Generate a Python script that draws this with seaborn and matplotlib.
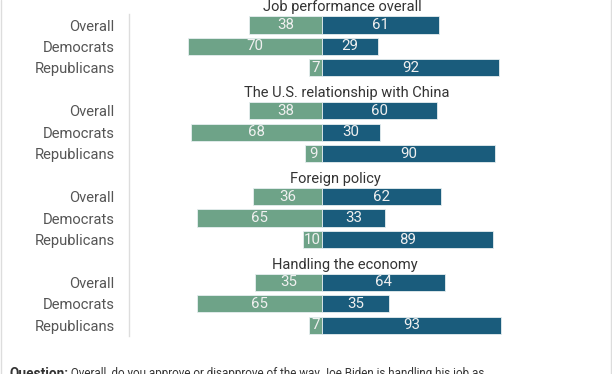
import matplotlib
matplotlib.use("Agg")
import matplotlib.pyplot as plt
from matplotlib.lines import Line2D
import seaborn as sns
import pandas as pd

topics = ["Job performance overall", "The U.S. relationship with China",
          "Foreign policy", "Handling the economy"]
groups = ["Overall", "Democrats", "Republicans"]
disapprove = [[38, 70, 7], [38, 68, 9], [36, 65, 10], [35, 65, 7]]
approve = [[61, 29, 92], [60, 30, 90], [62, 33, 89], [64, 35, 93]]

GREEN = "#6ea388"
BLUE = "#1a5c7c"

rows = []
for t, topic in enumerate(topics):
    for g, grp in enumerate(groups):
        rows.append({"topic": topic, "group": grp, "slot": 4 * t + 1 + g,
                     "disapprove": -disapprove[t][g], "approve": approve[t][g]})
df = pd.DataFrame(rows)

sns.set_theme(style="white")
plt.rcParams["font.family"] = ["Roboto", "DejaVu Sans"]

fig = plt.figure(figsize=(6.12, 3.74), dpi=100)
W, H = 612, 374
ax_left, ax_right = 129 / W, 610 / W
pitch = 21.45
y0 = 3.55  # pixel center of slot 0
top_px = y0 - 0.5 * pitch
bot_px = y0 + 15.5 * pitch
ax = fig.add_axes([ax_left, 1 - bot_px / H, ax_right - ax_left, (bot_px - top_px) / H])

sns.barplot(data=df, x="disapprove", y="slot", orient="y", native_scale=True,
            color=GREEN, saturation=1, width=0.8, errorbar=None,
            edgecolor="#e6eef0", linewidth=0.6, ax=ax)
sns.barplot(data=df, x="approve", y="slot", orient="y", native_scale=True,
            color=BLUE, saturation=1, width=0.8, errorbar=None,
            edgecolor="#e6eef0", linewidth=0.6, ax=ax)

for cont in ax.containers:
    ax.bar_label(cont, label_type="center", fmt=lambda v: f"{abs(v):.0f}",
                 color="#f0f0f0", fontsize=10.8)

ax.set_xlim(-100.5, 150)
ax.set_ylim(15.5, -0.5)
ax.set_xticks([])
ax.set_yticks(df["slot"].tolist())
ax.set_yticklabels(df["group"].tolist(), fontsize=10.6, color="#555555")
ax.tick_params(axis="y", length=0, pad=10.5)
ax.set_xlabel("")
ax.set_ylabel("")
for s in ["top", "right", "bottom"]:
    ax.spines[s].set_visible(False)
ax.spines["left"].set_color("#dddddd")
ax.spines["left"].set_linewidth(1)
ax.spines["left"].set_bounds(0.5, 15.5)

title_x = [10.5, 13, 7, 12]
for t, topic in enumerate(topics):
    ax.text(title_x[t], 4 * t + 0.36, topic, ha="center", va="baseline",
            fontsize=10.5, color="#333333")

# figure side borders
fig.add_artist(Line2D([1 / W, 1 / W], [0, 1], transform=fig.transFigure,
                      color="#dddddd", lw=1))
fig.add_artist(Line2D([610.5 / W, 610.5 / W], [0, 1], transform=fig.transFigure,
                      color="#dddddd", lw=1))

q = fig.text(9 / W, (H - 377) / H, "Question:", fontsize=9.8, fontweight="bold",
             color="#333333", ha="left", va="baseline")
ax.annotate(" Overall, do you approve or disapprove of the way Joe Biden is handling his job as",
            xy=(1, 0), xycoords=q, va="bottom", ha="left", fontsize=8.4,
            color="#333333", annotation_clip=False)

fig.savefig("out.png", dpi=100)
